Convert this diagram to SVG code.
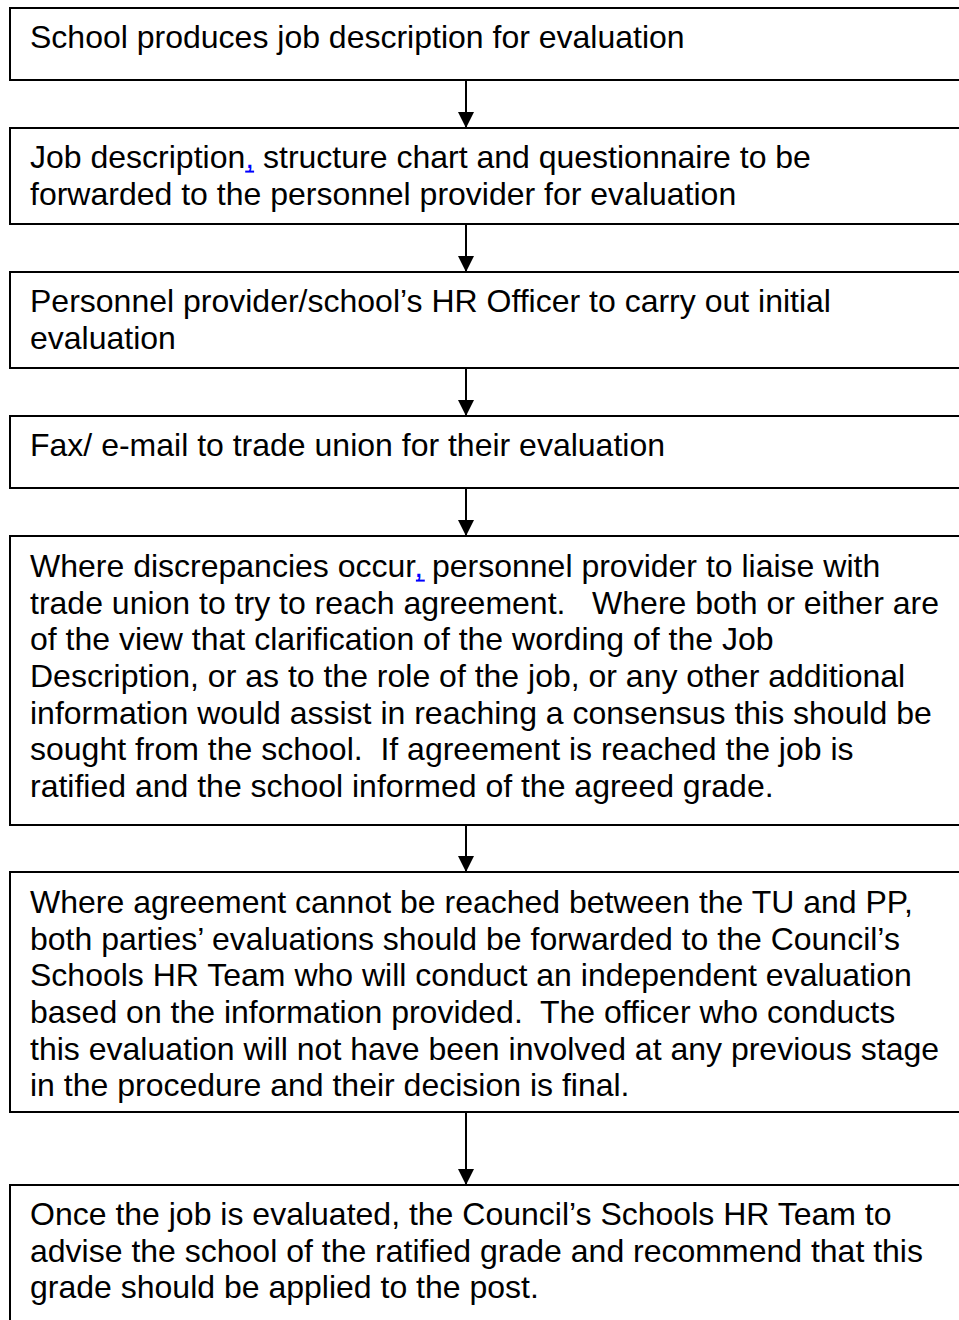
<svg xmlns="http://www.w3.org/2000/svg" width="959" height="1320" viewBox="0 0 959 1320">
<style>
.box{fill:#fff;stroke:#000;stroke-width:2}
.t{font-family:"Liberation Sans",Arial,sans-serif;font-size:32px;fill:#000;white-space:pre}
.lnk{fill:#0000ff}
.ul{stroke:#0000ff;stroke-width:2}
.conn line{stroke:#000;stroke-width:2}
</style>
<defs>
<marker id="ah" markerUnits="userSpaceOnUse" markerWidth="16" markerHeight="16" refX="16" refY="8" orient="auto">
<path d="M0,0 L16,8 L0,16 Z" fill="#000"/>
</marker>
</defs>
<rect width="959" height="1320" fill="#fff"/>
<g id="n1"><rect class="box" x="10" y="8" width="960" height="72"/>
<text class="t" x="30" y="48">School produces job description for evaluation</text></g>
<g id="n2"><rect class="box" x="10" y="128" width="960" height="96"/>
<text class="t" x="30" y="168">Job description<tspan class="lnk">,</tspan> structure chart and questionnaire to be</text>
<line class="ul" x1="245.2" y1="171.6" x2="254.1" y2="171.6"/>
<text class="t" x="30" y="205">forwarded to the personnel provider for evaluation</text></g>
<g id="n3"><rect class="box" x="10" y="272" width="960" height="96"/>
<text class="t" x="30" y="312">Personnel provider/school’s HR Officer to carry out initial</text>
<text class="t" x="30" y="349">evaluation</text></g>
<g id="n4"><rect class="box" x="10" y="416" width="960" height="72"/>
<text class="t" x="30" y="456">Fax/ e-mail to trade union for their evaluation</text></g>
<g id="n5"><rect class="box" x="10" y="536" width="960" height="289"/>
<text class="t" x="30" y="577">Where discrepancies occur<tspan class="lnk">,</tspan> personnel provider to liaise with</text>
<line class="ul" x1="415.9" y1="580.6" x2="424.8" y2="580.6"/>
<text class="t" x="30" y="613.7">trade union to try to reach agreement.   Where both or either are</text>
<text class="t" x="30" y="650.3">of the view that clarification of the wording of the Job</text>
<text class="t" x="30" y="687">Description, or as to the role of the job, or any other additional</text>
<text class="t" x="30" y="723.7">information would assist in reaching a consensus this should be</text>
<text class="t" x="30" y="760.3">sought from the school.  If agreement is reached the job is</text>
<text class="t" x="30" y="797">ratified and the school informed of the agreed grade.</text></g>
<g id="n6"><rect class="box" x="10" y="872" width="960" height="240"/>
<text class="t" x="30" y="913">Where agreement cannot be reached between the TU and PP,</text>
<text class="t" x="30" y="949.7">both parties’ evaluations should be forwarded to the Council’s</text>
<text class="t" x="30" y="986.3">Schools HR Team who will conduct an independent evaluation</text>
<text class="t" x="30" y="1023">based on the information provided.  The officer who conducts</text>
<text class="t" x="30" y="1059.7">this evaluation will not have been involved at any previous stage</text>
<text class="t" x="30" y="1096.3">in the procedure and their decision is final.</text></g>
<g id="n7"><rect class="box" x="10" y="1185" width="960" height="160"/>
<text class="t" x="30" y="1225">Once the job is evaluated, the Council’s Schools HR Team to</text>
<text class="t" x="30" y="1261.7">advise the school of the ratified grade and recommend that this</text>
<text class="t" x="30" y="1298.3">grade should be applied to the post.</text></g>
<g id="connectors" class="conn">
<line x1="466" y1="80" x2="466" y2="128" marker-end="url(#ah)"/>
<line x1="466" y1="224" x2="466" y2="272" marker-end="url(#ah)"/>
<line x1="466" y1="368" x2="466" y2="416" marker-end="url(#ah)"/>
<line x1="466" y1="488" x2="466" y2="536" marker-end="url(#ah)"/>
<line x1="466" y1="825" x2="466" y2="872" marker-end="url(#ah)"/>
<line x1="466" y1="1112" x2="466" y2="1185" marker-end="url(#ah)"/>
</g>
</svg>
